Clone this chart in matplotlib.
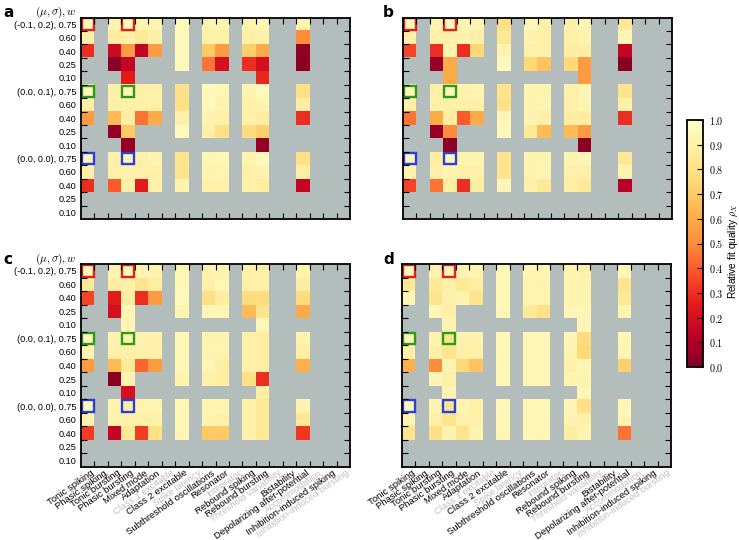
import numpy as np
import matplotlib
matplotlib.use('Agg')
from matplotlib import pyplot as plt
from matplotlib.patches import Rectangle
from matplotlib.transforms import ScaledTranslation

n = np.nan

behaviours = ['Tonic spiking', 'Phasic spiking', 'Tonic bursting', 'Phasic bursting',
              'Mixed mode', 'Adaptation', 'Class 1 excitable', 'Class 2 excitable',
              'Spike latency', 'Subthreshold oscillations', 'Resonator', 'Integrator',
              'Rebound spiking', 'Rebound bursting', 'Threshold variability', 'Bistability',
              'Depolarizing after-potential', 'Accommodation', 'Inhibition-induced spiking',
              'Inhibition-induced bursting']
greyed = ['Class 1 excitable', 'Spike latency', 'Integrator', 'Threshold variability',
          'Accommodation', 'Inhibition-induced bursting']

row_labels = ['(-0.1, 0.2), 0.75', '0.60', '0.40', '0.25', '0.10',
              '(0.0, 0.1), 0.75', '0.60', '0.40', '0.25', '0.10',
              '(0.0, 0.0), 0.75', '0.60', '0.40', '0.25', '0.10']

# columns that hold any data, the rest is nan everywhere
active = [0, 2, 3, 4, 5, 7, 9, 10, 12, 13, 16]

# 15 rows x 11 active columns per panel
rho_a = [
    [0.95, 0.92, 0.95, 0.92, 0.92, 0.95, 0.92, 0.92, 0.92, 0.93, 0.92],
    [0.90, 0.88, 0.90, 0.85, 0.90, 0.95, 0.90, 0.90, 0.90, 0.90, 0.50],
    [0.30, 0.17, 0.55, 0.15, 0.55, 0.95, 0.70, 0.55, 0.72, 0.60, 0.04],
    [n, 0.02, 0.15, n, n, 0.95, 0.45, 0.20, 0.30, 0.20, 0.03],
    [n, n, 0.25, n, n, n, n, n, n, 0.28, n],
    [0.95, 0.90, 0.95, 0.90, 0.90, 0.80, 0.95, 0.93, 0.92, 0.95, 0.80],
    [0.90, 0.90, 0.90, 0.90, 0.90, 0.80, 0.95, 0.92, 0.90, 0.92, 0.88],
    [0.55, 0.65, 0.88, 0.45, 0.60, 0.90, 0.92, 0.90, 0.90, 0.88, 0.30],
    [n, 0.05, 0.70, n, n, 0.95, 0.90, 0.80, 0.78, 0.72, n],
    [n, n, 0.05, n, n, n, n, n, n, 0.05, n],
    [0.95, 0.90, 0.95, 0.90, 0.92, 0.82, 0.93, 0.93, 0.92, 0.95, 0.80],
    [0.90, 0.90, 0.90, 0.90, 0.90, 0.82, 0.92, 0.92, 0.90, 0.92, 0.88],
    [0.30, 0.40, 0.90, 0.25, 0.90, 0.92, 0.90, 0.90, 0.90, 0.88, 0.15],
    [n] * 11,
    [n] * 11,
]
rho_b = [
    [0.95, 0.92, 0.95, 0.92, 0.92, 0.80, 0.93, 0.90, 0.90, 0.92, 0.85],
    [0.90, 0.90, 0.90, 0.92, 0.90, 0.85, 0.92, 0.90, 0.90, 0.92, 0.93],
    [0.35, 0.30, 0.92, 0.30, 0.75, 0.92, 0.90, 0.90, 0.88, 0.88, 0.15],
    [n, 0.05, 0.60, n, n, 0.95, 0.75, 0.68, 0.75, 0.55, 0.02],
    [n, n, 0.60, n, n, n, n, n, n, 0.55, n],
    [0.95, 0.90, 0.95, 0.92, 0.92, 0.82, 0.92, 0.92, 0.90, 0.93, 0.82],
    [0.90, 0.90, 0.90, 0.90, 0.90, 0.80, 0.92, 0.92, 0.90, 0.92, 0.90],
    [0.45, 0.60, 0.88, 0.40, 0.60, 0.93, 0.92, 0.90, 0.88, 0.88, 0.30],
    [n, 0.05, 0.50, n, n, 0.95, 0.85, 0.65, 0.65, 0.55, n],
    [n, n, 0.03, n, n, n, n, n, n, 0.03, n],
    [0.95, 0.88, 0.95, 0.92, 0.92, 0.82, 0.92, 0.92, 0.92, 0.93, 0.85],
    [0.92, 0.90, 0.92, 0.90, 0.90, 0.82, 0.92, 0.92, 0.90, 0.90, 0.92],
    [0.35, 0.45, 0.88, 0.30, 0.88, 0.93, 0.90, 0.85, 0.88, 0.85, 0.12],
    [n] * 11,
    [n] * 11,
]
rho_c = [
    [0.95, 0.92, 0.95, 0.92, 0.92, 0.93, 0.92, 0.92, 0.90, 0.90, 0.92],
    [0.85, 0.88, 0.90, 0.82, 0.88, 0.93, 0.90, 0.93, 0.90, 0.90, 0.88],
    [0.35, 0.25, 0.88, 0.30, 0.55, 0.95, 0.80, 0.88, 0.78, 0.78, 0.78],
    [n, 0.20, 0.93, n, n, 0.92, 0.93, 0.93, 0.65, 0.82, 0.60],
    [n, n, 0.93, n, n, n, n, n, n, 0.93, n],
    [0.95, 0.92, 0.92, 0.92, 0.92, 0.93, 0.92, 0.92, 0.90, 0.88, 0.92],
    [0.92, 0.90, 0.90, 0.90, 0.90, 0.93, 0.92, 0.92, 0.90, 0.88, 0.88],
    [0.55, 0.65, 0.85, 0.42, 0.55, 0.93, 0.93, 0.88, 0.90, 0.88, 0.62],
    [n, 0.03, 0.92, n, n, 0.92, 0.90, 0.88, 0.80, 0.30, n],
    [n, n, 0.20, n, n, n, n, n, n, 0.88, n],
    [0.95, 0.92, 0.88, 0.92, 0.92, 0.93, 0.92, 0.92, 0.90, 0.85, 0.92],
    [0.92, 0.92, 0.90, 0.90, 0.90, 0.93, 0.92, 0.90, 0.90, 0.85, 0.85],
    [0.33, 0.15, 0.85, 0.33, 0.80, 0.93, 0.70, 0.70, 0.90, 0.85, 0.32],
    [n] * 11,
    [n] * 11,
]
rho_d = [
    [0.95, 0.92, 0.95, 0.92, 0.92, 0.93, 0.93, 0.93, 0.92, 0.90, 0.93],
    [0.85, 0.85, 0.90, 0.85, 0.88, 0.93, 0.92, 0.92, 0.92, 0.92, 0.82],
    [0.93, 0.82, 0.90, 0.92, 0.82, 0.93, 0.92, 0.92, 0.92, 0.92, 0.85],
    [n, 0.93, 0.90, n, n, 0.93, 0.85, 0.80, 0.93, 0.93, 0.92],
    [n, n, 0.92, n, n, n, n, n, n, 0.93, n],
    [0.95, 0.92, 0.82, 0.92, 0.92, 0.93, 0.93, 0.93, 0.93, 0.78, 0.93],
    [0.90, 0.90, 0.82, 0.90, 0.90, 0.93, 0.93, 0.93, 0.92, 0.75, 0.92],
    [0.62, 0.50, 0.92, 0.75, 0.68, 0.93, 0.93, 0.93, 0.90, 0.93, 0.72],
    [n, 0.93, 0.90, n, n, 0.93, 0.93, 0.93, 0.92, 0.92, n],
    [n, n, 0.92, n, n, n, n, n, n, 0.93, n],
    [0.95, 0.92, 0.82, 0.92, 0.90, 0.93, 0.93, 0.93, 0.93, 0.80, 0.93],
    [0.92, 0.90, 0.82, 0.90, 0.90, 0.93, 0.93, 0.93, 0.92, 0.90, 0.92],
    [0.82, 0.80, 0.92, 0.82, 0.92, 0.93, 0.93, 0.93, 0.88, 0.92, 0.45],
    [n] * 11,
    [n] * 11,
]

# highlighted cells (row, column) with colour
boxes = [(0, 0, '#e0201a'), (0, 3, '#e0201a'),
         (5, 0, '#2e9a18'), (5, 3, '#2e9a18'),
         (10, 0, '#2a40d8'), (10, 3, '#2a40d8')]

plt.rcParams['font.family'] = ['Liberation Sans', 'DejaVu Sans']
plt.rcParams['mathtext.fontset'] = 'cm'

W, H = 739, 540
fig = plt.figure(figsize=(W / 100, H / 100), dpi=100)
shift = ScaledTranslation(2.5 / 100, 0, fig.dpi_scale_trans)


def full_grid(vals):
    grid = np.full((15, len(behaviours)), np.nan)
    grid[:, active] = np.array(vals, dtype=float)
    return grid


def panel(rect, vals, letter, letter_x, ylabels, xlabels):
    ax = fig.add_axes([rect[0] / W, 1 - rect[3] / H, (rect[2] - rect[0]) / W, (rect[3] - rect[1]) / H])
    ax.set_facecolor('#b3bdbb')
    im = ax.imshow(full_grid(vals), cmap='YlOrRd_r', vmin=0, vmax=1, interpolation='nearest',
                   extent=(0, 20, 15, 0), aspect='auto')
    for r, c, col in boxes:
        ax.add_patch(Rectangle((c + 0.07, r + 0.07), 0.86, 0.86, fill=False, ec=col, lw=1.7))
    ax.set_xlim(0, 20)
    ax.set_ylim(15, 0)
    ax.set_xticks(np.arange(20) + 0.5)
    ax.set_yticks(np.arange(15) + 0.5)
    ax.set_xticks(np.arange(1, 20), minor=True)
    ax.set_yticks(np.arange(1, 15), minor=True)
    ax.tick_params(which='major', length=0, labelsize=6.6, pad=3)
    ax.tick_params(axis='x', which='major', pad=1, labelsize=6.8)
    ax.tick_params(which='minor', direction='in', length=4, width=0.8,
                   top=True, bottom=True, left=True, right=True)
    if ylabels:
        ax.set_yticklabels(row_labels)
    else:
        ax.set_yticklabels([])
    if xlabels:
        ax.set_xticklabels(behaviours, rotation=35, ha='right', rotation_mode='anchor')
        for t in ax.get_xticklabels():
            t.set_transform(t.get_transform() + shift)
            if t.get_text() in greyed:
                t.set_color('#c0c0c0')
    else:
        ax.set_xticklabels([])
    for s in ax.spines.values():
        s.set_linewidth(1.3)
    fig.text(letter_x / W, 1 - (rect[1] - 5) / H, letter,
             fontsize=11, fontweight='bold', va='center', family='DejaVu Sans')
    if ylabels:
        fig.text((rect[0] - 46) / W, 1 - (rect[1] - 5) / H, r'$(\mu, \sigma), w$',
                 fontsize=8, va='center')
    return im


im = panel((81, 17.5, 350, 219), rho_a, 'a', 3, True, False)
panel((403, 17.5, 672, 219), rho_b, 'b', 383, False, False)
panel((81, 264, 350, 467), rho_c, 'c', 3, True, True)
panel((402, 264, 671, 467), rho_d, 'd', 383, False, True)

cax = fig.add_axes([687 / W, 1 - 367 / H, 16 / W, 247 / H])
cb = fig.colorbar(im, cax=cax, ticks=np.arange(0, 1.01, 0.1))
cb.outline.set_linewidth(1.3)
cax.tick_params(direction='in', length=4, width=0.8, labelsize=7.3, pad=4)
cax.set_yticklabels(['$%.1f$' % v for v in np.arange(0, 1.01, 0.1)])
cb.set_label(r'Relative fit quality $\rho_X$', fontsize=7.3)
cax.yaxis.set_label_coords(2.5, 0.47)

fig.savefig('out.png', dpi=100)
